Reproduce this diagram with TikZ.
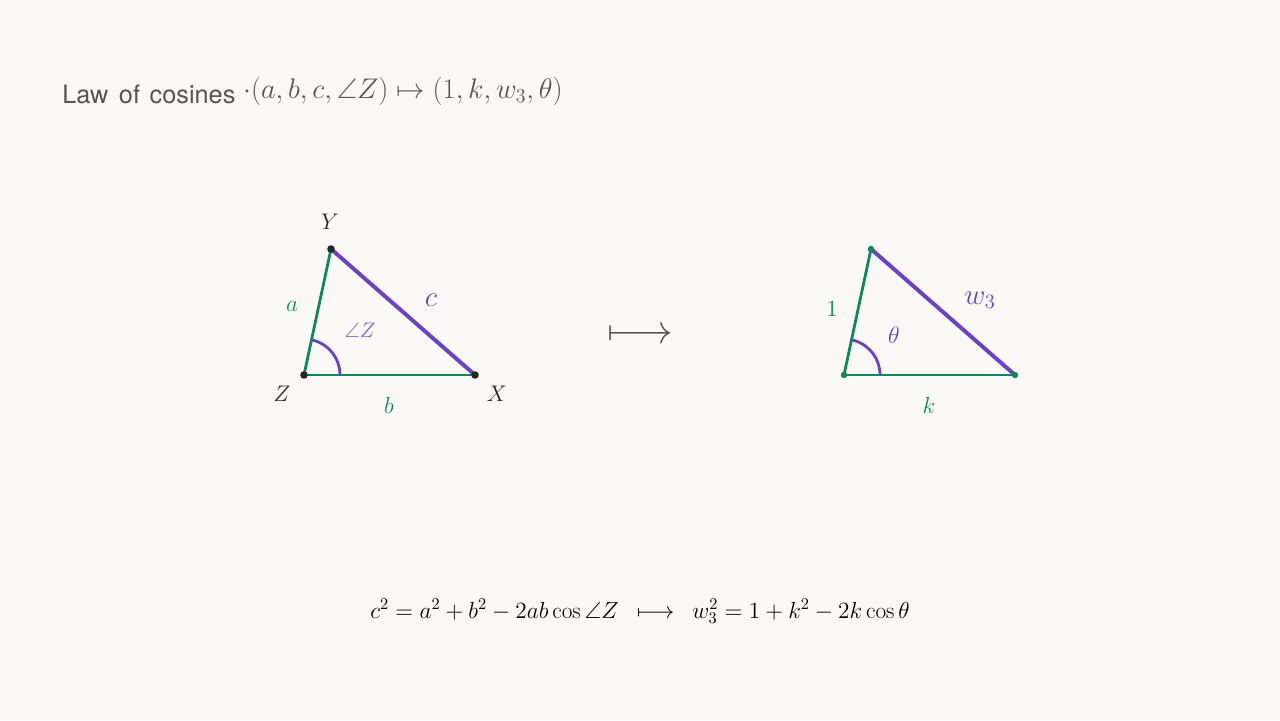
\RequirePackage{fix-cm}
\documentclass[tikz,border=0pt]{standalone}
\usepackage{amsmath, amssymb}
\usepackage{fontspec}
\newfontfamily\titlefont{TeX Gyre Heros}
\usepackage{tikz}
\usetikzlibrary{calc}

\definecolor{paper}{HTML}{FAF9F7}
\definecolor{sidegreen}{HTML}{12875F}
\definecolor{sidepurple}{HTML}{6A42C2}
\definecolor{inkgray}{HTML}{555555}

\tikzset{
	leg/.style = {draw = sidegreen, line width = 2pt},
	hyp/.style = {draw = sidepurple, line width = 2.8pt, line cap = round},
	anglearc/.style = {draw = sidepurple, line width = 2pt},
	vertexlabel/.style = {text = black!85, font = \fontsize{16}{19}\selectfont},
	greenlabel/.style = {text = sidegreen, font = \fontsize{16.5}{19}\selectfont},
	purplelabel/.style = {text = sidepurple, font = \fontsize{20.7}{24}\selectfont},
}

\begin{document}
\begin{tikzpicture}
		\def\r{0.9};
		\def\shift{13.5};

		\fill [paper] (0,0) rectangle (32,18);
		\useasboundingbox (0,0) rectangle (32,18);

		\node (title) [anchor = base west, inner sep = 0pt, text = inkgray] at (1.55,15.4)
			{{\titlefont\fontsize{18}{21}\selectfont Law\hspace{0.42em}of\hspace{0.38em}cosines}\hspace{0.55em}%
			\raisebox{4pt}{\fontsize{20.2}{24}\selectfont$\cdot(a, b, c, \angle Z) \mapsto (1, k, w_3, \theta)$}};

		% original triangle
		\coordinate (Z) at (7.6,8.625);
		\coordinate (Y) at (8.275,11.775);
		\coordinate (X) at (11.875,8.625);

		\draw [hyp] (Y) -- (X);
		\draw [leg] (Z) -- (Y);
		\draw [leg] (Z) -- (X);
		\draw [anglearc] ($(Z) + (\r,0)$) arc [start angle = 0, end angle = 77.9, radius = \r];
		\foreach \p in {Z, Y, X}
			\fill [black!85] (\p) circle [radius = 2.7pt];

		\node (label Y) [vertexlabel] at (8.25,12.45) {$Y$};
		\node (label Z) [vertexlabel] at (7.05,8.15) {$Z$};
		\node (label X) [vertexlabel] at (12.425,8.15) {$X$};
		\node (label a) [greenlabel] at (7.3,10.325) {$a$};
		\node (label b) [greenlabel] at (9.725,7.875) {$b$};
		\node (label c) [purplelabel] at (10.775,10.5) {$c$};
		\node (label angle) [text = sidepurple!85, font = \fontsize{15}{18}\selectfont] at (9.0,9.75) {$\angle Z$};

		\node (maps to) [text = inkgray, font = \fontsize{29}{33}\selectfont] at (16,9.6) {$\longmapsto$};

		% normalised triangle
		\coordinate (Z') at ({7.6 + \shift},8.625);
		\coordinate (Y') at ({8.275 + \shift},11.775);
		\coordinate (X') at ({11.875 + \shift},8.625);

		\draw [hyp] (Y') -- (X');
		\draw [leg] (Z') -- (Y');
		\draw [leg] (Z') -- (X');
		\draw [anglearc] ($(Z') + (\r,0)$) arc [start angle = 0, end angle = 77.9, radius = \r];
		\foreach \p in {Z', Y', X'}
			\fill [sidegreen] (\p) circle [radius = 2.3pt];

		\node (label one) [greenlabel] at (20.8,10.275) {$1$};
		\node (label k) [greenlabel] at (23.225,7.875) {$k$};
		\node (label w) [purplelabel] at (24.5,10.5) {$w_3$};
		\node (label theta) [text = sidepurple, font = \fontsize{17}{20}\selectfont] at (22.35,9.625) {$\theta$};

		\node (formula) [anchor = base, inner sep = 0pt, font = \fontsize{16.55}{19}\selectfont] at (16,2.55)
			{$c^2 = a^2 + b^2 - 2ab\cos\angle Z \enspace\longmapsto\enspace w_3^2 = 1 + k^2 - 2k\cos\theta$};
	\end{tikzpicture}
\end{document}
